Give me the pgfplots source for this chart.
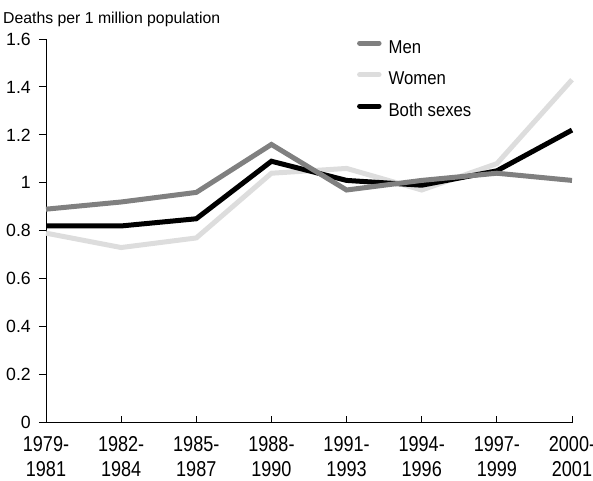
\documentclass[border=0pt]{standalone}
\usepackage{fontspec}
\setmainfont{Liberation Sans}
\newfontfamily\condfont{Liberation Sans}[FakeStretch=0.84]
\newfontfamily\legfont{Liberation Sans}[FakeStretch=0.9]
\usepackage{pgfplots}
\pgfplotsset{compat=1.18}
\definecolor{mengray}{RGB}{128,128,128}
\definecolor{womgray}{RGB}{221,221,221}
\begin{document}
\begin{tikzpicture}
\begin{axis}[
  scale only axis,
  width=526bp, height=383.5bp,
  xmin=0, xmax=7, ymin=0, ymax=1.6,
  axis x line*=bottom, axis y line*=left,
  axis line style={line width=0.9bp, -},
  xtick={0,...,7},
  xticklabels={{1979-\\1981},{1982-\\1984},{1985-\\1987},{1988-\\1990},{1991-\\1993},{1994-\\1996},{1997-\\1999},{2000-\\2001}},
  ytick={0,0.2,...,1.6},
  yticklabels={0,0.2,0.4,0.6,0.8,1,1.2,1.4,1.6},
  xtick align=inside, ytick align=outside,
  major tick length=7bp,
  tick style={line width=0.9bp, black},
  xticklabel style={font=\condfont\fontsize{21.5bp}{25bp}\selectfont, align=center, inner sep=0pt, yshift=-14bp},
  yticklabel style={font=\fontsize{17.7bp}{20bp}\selectfont, inner sep=0pt, xshift=-8bp},
  /pgf/number format/assume math mode=true,
  legend style={draw=none, fill=none, at={(0.591,1.0)}, anchor=north west,
    inner sep=0pt, row sep=13.5bp, column sep=7bp,
    nodes={inner sep=0pt, text height=14bp, text depth=4bp},
    font=\legfont\fontsize{18.6bp}{20bp}\selectfont},
  legend cell align=left,
  legend image code/.code={\draw[#1, line cap=round] (0bp,5bp) -- (19.5bp,5bp);},
  clip=false,
]
\addlegendimage{mengray, line width=5bp}
\addlegendimage{womgray, line width=5bp}
\addlegendimage{black, line width=5bp}
\legend{Men,Women,Both sexes}
\addplot[womgray, line width=5bp, forget plot] coordinates {(0,0.79) (1,0.73) (2,0.77) (3,1.04) (4,1.06) (5,0.97) (6,1.08) (7,1.43)};
\addplot[black, line width=5bp, forget plot] coordinates {(0,0.82) (1,0.82) (2,0.85) (3,1.09) (4,1.01) (5,0.99) (6,1.05) (7,1.22)};
\addplot[mengray, line width=5bp, forget plot] coordinates {(0,0.89) (1,0.92) (2,0.96) (3,1.16) (4,0.97) (5,1.01) (6,1.04) (7,1.01)};
\coordinate (O) at (rel axis cs:0,0);
\coordinate (T) at (rel axis cs:0,1);
\end{axis}
\node[anchor=base west, inner sep=0pt, font=\fontsize{15.8bp}{18bp}\selectfont] at ([xshift=-43bp,yshift=15bp]T) {Deaths per 1 million population};
\pgfresetboundingbox
\path ([xshift=-46bp,yshift=-58.5bp]O) rectangle ([xshift=547bp,yshift=422.5bp]O);
\end{tikzpicture}
\end{document}
